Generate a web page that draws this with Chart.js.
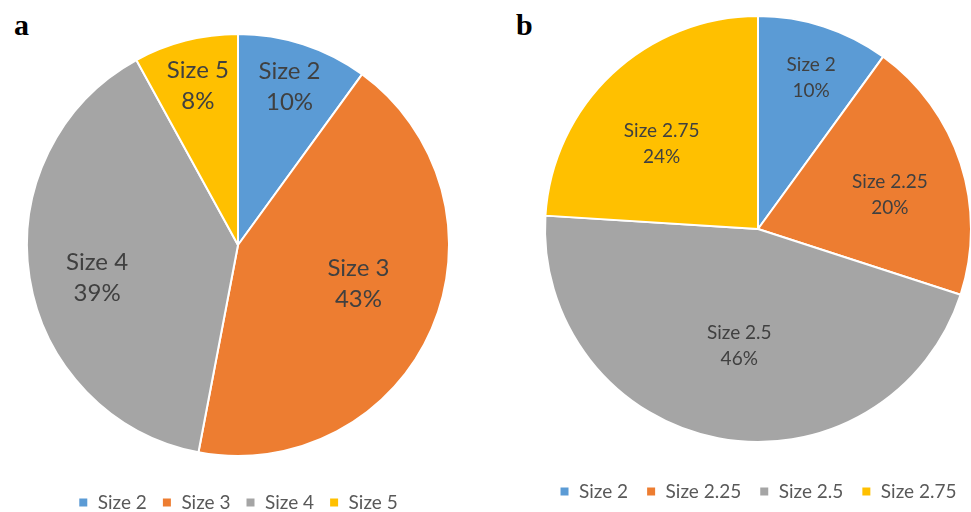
<!DOCTYPE html>
<html>
<head>
<meta charset="utf-8">
<script src="https://cdn.jsdelivr.net/npm/chart.js@4/dist/chart.umd.min.js"></script>
<style>
  html, body { margin: 0; padding: 0; background: #fff; overflow: hidden; width: 971px; height: 512px; }
  .tag { position: absolute; font: bold 30px "Liberation Serif", "Times New Roman", serif; line-height: 30px; color: #000; }
  .box { position: absolute; }
</style>
</head>
<body>
<div class="tag" style="left:14px; top:10px;">a</div>
<div class="tag" style="left:516px; top:10px;">b</div>
<div class="box" style="left:0px; top:0px; width:476px; height:522px;"><canvas id="chartA"></canvas></div>
<div class="box" style="left:528px; top:-6px; width:460px; height:517px;"><canvas id="chartB"></canvas></div>
<script>
// Pie a
var sizesA = ["Size 2", "Size 3", "Size 4", "Size 5"];
var sharesA = [10, 43, 39, 8];

// Pie b
var sizesB = ["Size 2", "Size 2.25", "Size 2.5", "Size 2.75"];
var sharesB = [10, 20, 46, 24];

var sliceColors = ["#5B9BD5", "#ED7D31", "#A5A5A5", "#FFC000"];

// Where the label sits inside each slice: [share of the slice angle, share of the radius]
var labelSpotA = [[0.5, 0.79], [0.465, 0.6], [0.47, 0.686], [0.51, 0.78]];
var labelSpotB = [[0.54, 0.75], [0.547, 0.64], [0.49, 0.554], [0.44, 0.605]];

// Draws "name / nn%" inside each slice, as Excel does
var sliceLabels = {
    id: 'sliceLabels',
    afterDatasetsDraw: function(chart, args, opts) {
        var ctx = chart.ctx;
        var meta = chart.getDatasetMeta(0);
        var values = chart.data.datasets[0].data;
        var total = values.reduce(function(a, b) { return a + b; }, 0);
        ctx.save();
        ctx.fillStyle = '#404040';
        ctx.textAlign = 'center';
        ctx.textBaseline = 'middle';
        ctx.font = opts.size + 'px Lato, "Open Sans", sans-serif';
        meta.data.forEach(function(arc, i) {
            var p = arc.getProps(['x', 'y', 'startAngle', 'endAngle', 'outerRadius'], true);
            var spot = opts.spots[i];
            var ang = p.startAngle + (p.endAngle - p.startAngle) * spot[0];
            var r = p.outerRadius * spot[1];
            var cx = p.x + Math.cos(ang) * r;
            var cy = p.y + Math.sin(ang) * r;
            var pct = Math.round(values[i] / total * 100) + '%';
            ctx.fillText(chart.data.labels[i], cx, cy - opts.gap / 2);
            ctx.fillText(pct, cx, cy + opts.gap / 2);
        });
        ctx.restore();
    }
};

function createPie(canvasId, labels, values, radius, padTop, labelSize, labelGap, spots, legendPad) {
    var ctx = document.getElementById(canvasId).getContext('2d');
    return new Chart(ctx, {
        type: 'pie',
        data: {
            labels: labels,
            datasets: [{
                data: values,
                backgroundColor: sliceColors,
                borderColor: '#ffffff',
                borderWidth: 2
            }]
        },
        options: {
            responsive: true,
            maintainAspectRatio: false,
            animation: false,
            events: [],
            radius: radius,
            layout: { padding: { top: padTop, bottom: 0, left: 0, right: 0 } },
            plugins: {
                tooltip: { enabled: false },
                legend: {
                    position: 'bottom',
                    labels: {
                        boxWidth: 10,
                        boxHeight: 10,
                        padding: legendPad,
                        color: '#595959',
                        font: { family: 'Lato, "Open Sans", sans-serif', size: 19 }
                    }
                },
                sliceLabels: { size: labelSize, gap: labelGap, spots: spots }
            }
        },
        plugins: [sliceLabels]
    });
}

createPie('chartA', sizesA, sharesA, 211, 12, 24, 31, labelSpotA, 15);
createPie('chartB', sizesB, sharesB, 213, 0, 19, 26, labelSpotB, 18);
</script>
</body>
</html>
